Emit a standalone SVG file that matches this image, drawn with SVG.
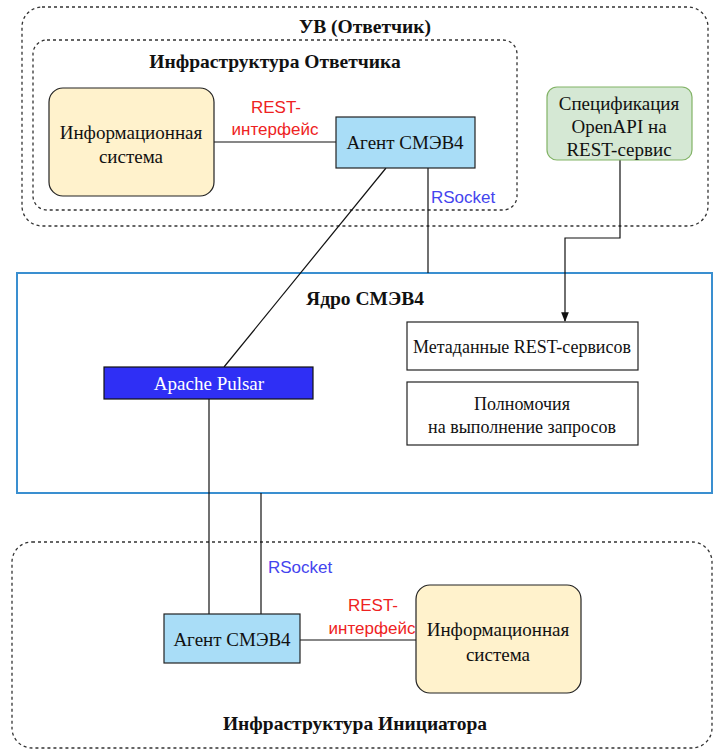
<svg xmlns="http://www.w3.org/2000/svg" width="726" height="755" viewBox="0 0 726 755">
<defs>
<style>
.grp{fill:none;stroke:#333;stroke-width:1.3;stroke-dasharray:3 3}
.t{font-family:"Liberation Serif",serif;font-size:19px;fill:#111;text-anchor:middle}
.s{font-size:18px}
.b{font-weight:bold;font-size:19.5px}
.lbl{font-family:"Liberation Sans",sans-serif;font-size:17px;text-anchor:middle}
.red{fill:#ee2222}
.blue{fill:#4444ee}
.ln{fill:none;stroke:#111;stroke-width:1.2}
.is{fill:#fff2cc;stroke:#222;stroke-width:1.2}
.ag{fill:#a9ddf7;stroke:#222;stroke-width:1.2}
.wb{fill:#fff;stroke:#222;stroke-width:1.2}
</style>
<marker id="arr" viewBox="0 0 10 10" refX="9" refY="5" markerWidth="8" markerHeight="8" orient="auto"><path d="M0,1 L10,5 L0,9 Z" fill="#111"/></marker>
</defs>
<rect width="726" height="755" fill="#fff"/>
<g id="uv"><rect class="grp" x="22" y="7" width="686" height="219" rx="20"/><text class="t b" x="365" y="33">УВ (Ответчик)</text></g>
<g id="infra-otv"><rect class="grp" x="33" y="40" width="484" height="170" rx="14"/><text class="t b" x="275" y="68">Инфраструктура Ответчика</text></g>
<g id="core"><rect x="17" y="273" width="695" height="220" fill="none" stroke="#3a8fd0" stroke-width="2"/><text class="t b" x="365" y="305">Ядро СМЭВ4</text></g>
<g id="infra-init"><rect class="grp" x="12" y="542" width="700" height="206" rx="20"/><text class="t b" x="355" y="730">Инфраструктура Инициатора</text></g>
<g id="connectors">
<line class="ln" x1="214" y1="142" x2="336" y2="142"/>
<line class="ln" x1="386" y1="168" x2="224" y2="367"/>
<line class="ln" x1="428" y1="168" x2="428" y2="273"/>
<path class="ln" d="M620,160 V238 H565 V321" marker-end="url(#arr)"/>
<line class="ln" x1="209" y1="399" x2="209" y2="614"/>
<line class="ln" x1="261" y1="493" x2="261" y2="614"/>
<line class="ln" x1="300" y1="640" x2="416" y2="640"/>
<text class="lbl red" x="276" y="113">REST-</text>
<text class="lbl red" x="275" y="135">интерфейс</text>
<text class="lbl blue" x="463" y="203">RSocket</text>
<text class="lbl blue" x="300" y="573">RSocket</text>
<text class="lbl red" x="373" y="611">REST-</text>
<text class="lbl red" x="372" y="634">интерфейс</text>
</g>
<g id="is-top"><rect class="is" x="49" y="88" width="165" height="108" rx="14"/><text class="t" x="131" y="139">Информационная</text><text class="t" x="131" y="163">система</text></g>
<g id="agent-top"><rect class="ag" x="336" y="117" width="139" height="51"/><text class="t" x="405" y="149">Агент СМЭВ4</text></g>
<g id="spec"><rect x="547" y="87" width="145" height="73" rx="10" fill="#d5e8d4" stroke="#82b366" stroke-width="1.2"/><text class="t" x="619" y="110">Спецификация</text><text class="t" x="619" y="133">OpenAPI на</text><text class="t" x="619" y="156">REST-сервис</text></g>
<g id="meta"><rect class="wb" x="407" y="322" width="231" height="48"/><text class="t s" x="522" y="353">Метаданные REST-сервисов</text></g>
<g id="auth"><rect class="wb" x="407" y="382" width="231" height="63"/><text class="t s" x="522" y="410">Полномочия</text><text class="t s" x="522" y="433">на выполнение запросов</text></g>
<g id="pulsar"><rect x="104" y="367" width="209" height="32" fill="#2f2ff5" stroke="#111" stroke-width="1.2"/><text class="t" x="209" y="390" style="fill:#fff">Apache Pulsar</text></g>
<g id="agent-bot"><rect class="ag" x="164" y="614" width="136" height="49"/><text class="t" x="232" y="646">Агент СМЭВ4</text></g>
<g id="is-bot"><rect class="is" x="416" y="585" width="165" height="108" rx="14"/><text class="t" x="498" y="636">Информационная</text><text class="t" x="498" y="661">система</text></g>
</svg>
